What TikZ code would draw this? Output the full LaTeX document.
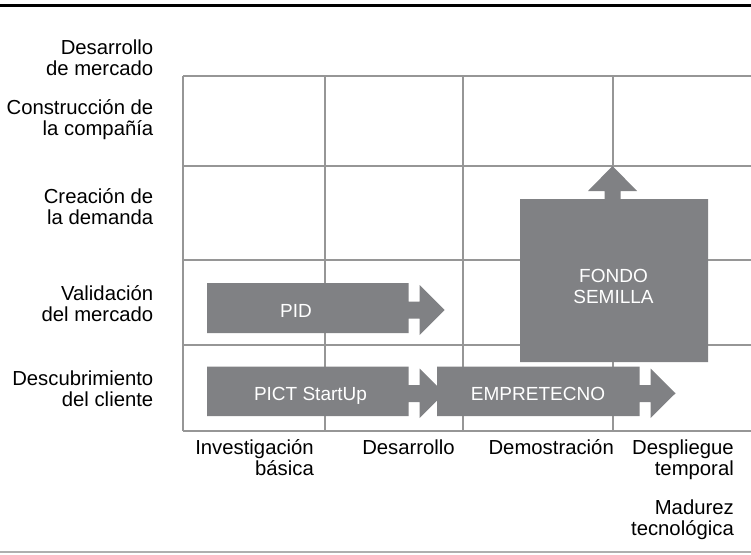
\documentclass[tikz,border=0pt]{standalone}
\usepackage{fontspec}
\setmainfont{Liberation Sans}
\definecolor{boxgrey}{RGB}{128,129,132}
\definecolor{gridgrey}{RGB}{150,150,150}
\definecolor{rulegrey}{RGB}{175,175,175}
\newcommand\twoR[2]{\begin{tabular}[t]{@{}r@{}}#1\\#2\end{tabular}}
\newcommand\twoC[2]{\begin{tabular}[t]{@{}c@{}}#1\\#2\end{tabular}}
\begin{document}
\begin{tikzpicture}[x=1pt,y=-1pt,
  gridline/.style={draw=gridgrey, line width=1.3pt},
  lbl/.style={font=\fontsize{20.3}{21}\selectfont, text=black, inner sep=0, anchor=base east},
  btxt/.style={font=\fontsize{19}{21}\selectfont, text=white, inner sep=0, anchor=base},
  progfill/.style={fill=boxgrey}]
\useasboundingbox (0,0) rectangle (751,554);
\fill[white] (0,0) rectangle (751,554);
% rules
\draw[line width=3.5pt, black] (0,5.5) -- (751,5.5);
\draw[line width=1.5pt, rulegrey] (0,552) -- (751,552);
% grid
\foreach \yy in {76,166,260,345,431} \draw[gridline] (183,\yy) -- (751,\yy);
\foreach \xx in {183,325,463,613} \draw[gridline] (\xx,76) -- (\xx,431);
% arrows
\fill[progfill] (207,283) -- (408.5,283) -- (408.5,301.5) -- (419.5,301.5) -- (419.5,285) -- (444.5,310) -- (419.5,335) -- (419.5,318.5) -- (408.5,318.5) -- (408.5,333) -- (207,333) -- cycle;
\fill[progfill] (207,366.5) -- (408.5,366.5) -- (408.5,385) -- (419.5,385) -- (419.5,368.5) -- (444.5,393.25) -- (419.5,418) -- (419.5,402) -- (408.5,402) -- (408.5,416) -- (207,416) -- cycle;
\fill[progfill] (437,366.5) -- (639.5,366.5) -- (639.5,385) -- (650.5,385) -- (650.5,368.5) -- (675.5,393.25) -- (650.5,418) -- (650.5,402) -- (639.5,402) -- (639.5,416) -- (437,416) -- cycle;
\fill[progfill] (520,199) -- (604.5,199) -- (604.5,191) -- (588,191) -- (612.5,166) -- (637,191) -- (620.5,191) -- (620.5,199) -- (708,199) -- (708,362) -- (520,362) -- cycle;
% box texts
\node[btxt] (pid) at (296,317.5) {PID};
\node[btxt] (pict) at (310.5,400.5) {PICT StartUp};
\node[btxt] (empre) at (538,400.5) {EMPRETECNO};
\node[btxt] (fondo) at (613.5,282) {\twoC{FONDO}{SEMILLA}};
% row labels
\node[lbl] (l1) at (153.5,54) {\twoR{Desarrollo}{de mercado}};
\node[lbl] (l2) at (153.5,114) {\twoR{Construcción de}{la compañía}};
\node[lbl] (l3) at (153.5,203) {\twoR{Creación de}{la demanda}};
\node[lbl] (l4) at (153.5,300) {\twoR{Validación}{del mercado}};
\node[lbl] (l5) at (153.5,385) {\twoR{Descubrimiento}{del cliente}};
% column labels
\node[lbl] (c1) at (314,454) {\twoR{Investigación}{básica}};
\node[lbl] (c2) at (455,454) {Desarrollo};
\node[lbl] (c3) at (614,454) {Demostración};
\node[lbl] (c4) at (734,454) {\twoR{Despliegue}{temporal}};
\node[lbl] (axis) at (734,514) {\twoR{Madurez}{tecnológica}};
\end{tikzpicture}
\end{document}
